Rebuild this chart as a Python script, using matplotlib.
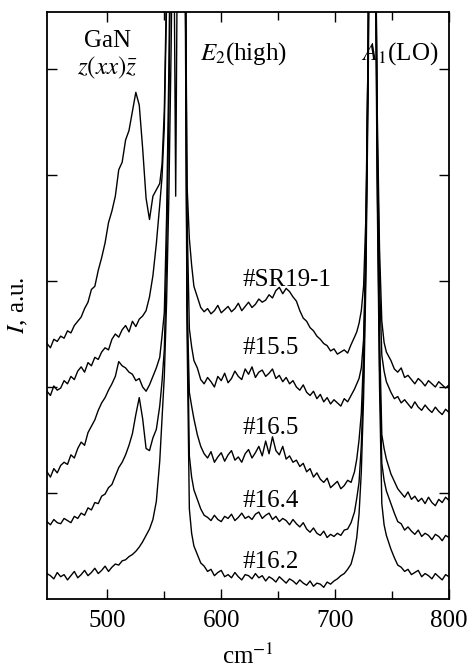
import numpy as np
import matplotlib
matplotlib.use("Agg")
import matplotlib.pyplot as plt
from matplotlib.ticker import FixedLocator

plt.rcParams['font.family'] = ['Liberation Serif', 'DejaVu Serif']
plt.rcParams['mathtext.fontset'] = 'stix'

# Raman shift grid (cm^-1), denser around the E2(high) and A1(LO) lines
wn_a = np.arange(447, 547, 3)   # 34
wn_b = np.arange(548, 577, 2)   # 15
wn_c = np.arange(579, 718, 3)   # 47
wn_d = np.arange(719, 746, 2)   # 14
wn_e = np.arange(749, 801, 3)   # 18
wavenumber = np.concatenate([wn_a, wn_b, wn_c, wn_d, wn_e])

# Intensities (a.u., offset traces)
sr19_1 = [2.41, 2.37, 2.45, 2.43, 2.48, 2.46, 2.53, 2.51, 2.58, 2.62,
          2.66, 2.74, 2.80, 2.92, 2.95, 3.10, 3.22, 3.36, 3.55, 3.66,
          3.80, 4.05, 4.12, 4.33, 4.42, 4.60, 4.78, 4.66, 4.25, 3.78,
          3.58, 3.80, 3.86, 3.92,
          4.10, 4.60, 5.8, 7.0, 7.5, 7.0, 3.8, 7.0, 9.0, 9.5, 7.0, 3.9, 3.4, 3.15, 2.95,
          2.85, 2.75, 2.71, 2.74, 2.69, 2.72, 2.77, 2.70, 2.73, 2.76,
          2.71, 2.74, 2.79, 2.72, 2.76, 2.80, 2.75, 2.78, 2.83, 2.80,
          2.82, 2.87, 2.84, 2.91, 2.94, 2.88, 2.93, 2.90, 2.85, 2.81,
          2.72, 2.65, 2.62, 2.56, 2.53, 2.48, 2.45, 2.41, 2.39, 2.34,
          2.36, 2.31, 2.33, 2.35, 2.32, 2.40, 2.47,
          2.52, 2.60, 2.72, 2.95, 3.6, 5.2, 8.5, 10.0, 7.0, 4.6, 3.3, 2.62, 2.42, 2.33,
          2.25, 2.17, 2.14, 2.18, 2.09, 2.11, 2.07, 2.03, 2.08, 2.05,
          2.01, 2.06, 2.03, 2.00, 2.05, 2.02, 1.99, 2.02]

s15_5 = [1.96, 1.92, 2.01, 1.97, 1.99, 2.06, 2.03, 2.10, 2.07, 2.15,
         2.19, 2.14, 2.23, 2.20, 2.28, 2.26, 2.33, 2.37, 2.35, 2.45,
         2.50, 2.47, 2.54, 2.58, 2.52, 2.62, 2.57, 2.64, 2.67, 2.72,
         2.85, 3.05, 3.35, 3.72,
         3.98, 4.45, 5.6, 7.0, 8.5, 9.3, 9.5, 9.5, 9.5, 9.0, 7.0, 3.6, 2.55, 2.38, 2.25,
         2.18, 2.07, 2.03, 2.09, 2.05, 2.00, 2.10, 2.06, 2.13, 2.04,
         2.08, 2.15, 2.10, 2.07, 2.17, 2.12, 2.19, 2.09, 2.14, 2.16,
         2.10, 2.13, 2.17, 2.08, 2.11, 2.05, 2.09, 2.03, 2.06, 2.00,
         1.97, 2.02, 1.95, 1.92, 1.96, 1.89, 1.93, 1.86, 1.90, 1.84,
         1.88, 1.85, 1.82, 1.89, 1.86, 1.92, 1.98,
         2.03, 2.08, 2.18, 2.45, 3.3, 5.2, 8.5, 10.0, 7.0, 4.4, 3.0, 2.30, 2.15, 2.05,
         1.95, 1.89, 1.91, 1.85, 1.88, 1.84, 1.80, 1.86, 1.81, 1.78,
         1.83, 1.79, 1.76, 1.81, 1.77, 1.74, 1.79, 1.76]

s16_5 = [1.20, 1.15, 1.23, 1.19, 1.26, 1.29, 1.27, 1.36, 1.33, 1.42,
         1.48, 1.45, 1.57, 1.63, 1.69, 1.78, 1.85, 1.90, 1.97, 2.03,
         2.10, 2.24, 2.20, 2.18, 2.14, 2.12, 2.06, 2.08, 2.00, 1.96,
         2.02, 2.10, 2.18, 2.28,
         2.48, 2.70, 3.6, 5.0, 7.0, 8.5, 9.5, 9.5, 9.5, 9.0, 7.0, 2.8, 1.95, 1.82, 1.70,
         1.55, 1.44, 1.37, 1.33, 1.39, 1.29, 1.34, 1.38, 1.30, 1.36,
         1.40, 1.31, 1.34, 1.29, 1.37, 1.41, 1.33, 1.38, 1.44, 1.35,
         1.49, 1.37, 1.53, 1.40, 1.36, 1.44, 1.32, 1.35, 1.29, 1.31,
         1.25, 1.28, 1.20, 1.23, 1.15, 1.19, 1.13, 1.10, 1.14, 1.05,
         1.08, 1.11, 1.04, 1.07, 1.12, 1.10, 1.20,
         1.32, 1.50, 1.75, 2.30, 3.3, 5.3, 8.5, 10.0, 7.0, 4.2, 2.5, 1.55, 1.42, 1.32,
         1.18, 1.11, 1.04, 1.00, 0.96, 1.01, 0.94, 0.97, 0.92, 0.95,
         0.90, 0.96, 0.91, 0.88, 0.94, 0.91, 0.96, 0.93]

s16_4 = [0.73, 0.70, 0.75, 0.72, 0.71, 0.76, 0.74, 0.72, 0.78, 0.76,
         0.81, 0.79, 0.86, 0.84, 0.91, 0.90, 0.97, 0.99, 1.05, 1.08,
         1.16, 1.24, 1.29, 1.36, 1.45, 1.56, 1.74, 1.90, 1.70, 1.42,
         1.40, 1.52, 1.60, 1.82,
         2.05, 2.35, 3.2, 4.6, 6.5, 8.0, 9.0, 9.5, 9.5, 9.0, 7.0, 2.8, 1.35, 1.15, 1.03,
         0.94, 0.85, 0.79, 0.77, 0.74, 0.79, 0.75, 0.73, 0.78, 0.76,
         0.80, 0.74, 0.77, 0.81, 0.76, 0.78, 0.75, 0.80, 0.82, 0.76,
         0.79, 0.81, 0.75, 0.78, 0.73, 0.76, 0.74, 0.70, 0.75, 0.71,
         0.68, 0.72, 0.66, 0.63, 0.67, 0.62, 0.60, 0.64, 0.58, 0.61,
         0.59, 0.62, 0.60, 0.65, 0.66, 0.72, 0.82,
         0.95, 1.10, 1.45, 2.1, 3.2, 5.0, 8.0, 10.0, 7.0, 4.0, 2.2, 1.28, 1.12, 1.02,
         0.90, 0.81, 0.73, 0.71, 0.65, 0.68, 0.64, 0.61, 0.65, 0.59,
         0.62, 0.60, 0.56, 0.61, 0.59, 0.55, 0.60, 0.58]

s16_2 = [0.24, 0.22, 0.19, 0.25, 0.21, 0.23, 0.18, 0.22, 0.26, 0.20,
         0.23, 0.27, 0.22, 0.25, 0.29, 0.24, 0.27, 0.31, 0.26, 0.30,
         0.33, 0.32, 0.36, 0.37, 0.40, 0.42, 0.45, 0.49, 0.54, 0.60,
         0.66, 0.75, 0.92, 1.30,
         1.70, 2.10, 2.80, 3.8, 5.2, 7.0, 8.5, 9.5, 9.5, 9.0, 6.5, 2.5, 0.85, 0.62, 0.50,
         0.42, 0.34, 0.31, 0.26, 0.28, 0.22, 0.25, 0.27, 0.21, 0.23,
         0.20, 0.25, 0.21, 0.18, 0.23, 0.22, 0.19, 0.24, 0.20, 0.22,
         0.17, 0.21, 0.19, 0.16, 0.21, 0.18, 0.15, 0.19, 0.17, 0.14,
         0.18, 0.15, 0.13, 0.17, 0.12, 0.15, 0.14, 0.11, 0.16, 0.14,
         0.17, 0.19, 0.22, 0.24, 0.28, 0.33, 0.45,
         0.58, 0.80, 1.20, 1.9, 3.0, 4.8, 7.5, 9.5, 6.5, 3.8, 2.0, 0.90, 0.70, 0.60,
         0.47, 0.39, 0.32, 0.30, 0.26, 0.28, 0.23, 0.25, 0.27, 0.21,
         0.24, 0.22, 0.19, 0.24, 0.21, 0.18, 0.23, 0.21]

sample_names = ['#SR19-1', '#15.5', '#16.5', '#16.4', '#16.2']
label_y = [3.01, 2.37, 1.61, 0.92, 0.35]
spectra = [sr19_1, s15_5, s16_5, s16_4, s16_2]

fig = plt.figure(figsize=(4.72, 6.69), dpi=100)
ax = fig.add_axes([47/472, 70/669, 402/472, 587/669])

for spec in spectra:
    ax.plot(wavenumber, spec, color='black', lw=1.0)

for name, yy in zip(sample_names, label_y):
    ax.text(619, yy, name, ha='left', va='center', fontsize=18)

ax.text(500, 5.26, 'GaN', ha='center', va='center', fontsize=18)
ax.text(500, 5.01, r'$z(xx)\bar{z}$', ha='center', va='center', fontsize=18)
ax.text(619.5, 5.15, r'$E_2$(high)', ha='center', va='center', fontsize=18)
ax.text(757, 5.15, r'$A_1$(LO)', ha='center', va='center', fontsize=18)

ax.set_xlim(447, 800)
ax.set_ylim(0, 587/106)
ax.set_xticks([500, 600, 700, 800])
ax.xaxis.set_minor_locator(FixedLocator([550, 650, 750]))
ax.set_yticks([1, 2, 3, 4, 5])
ax.set_yticklabels([])
ax.tick_params(which='both', direction='in', top=True, right=True, width=1.0)
ax.tick_params(which='major', length=7, labelsize=18, pad=8)
ax.tick_params(which='minor', length=6)
for sp in ax.spines.values():
    sp.set_linewidth(1.3)

ax.set_xlabel(r'cm$^{-1}$', fontsize=18, labelpad=8)
ax.set_ylabel(r'$I$, a.u.', fontsize=18, labelpad=4)

fig.savefig('out.png', dpi=100)
